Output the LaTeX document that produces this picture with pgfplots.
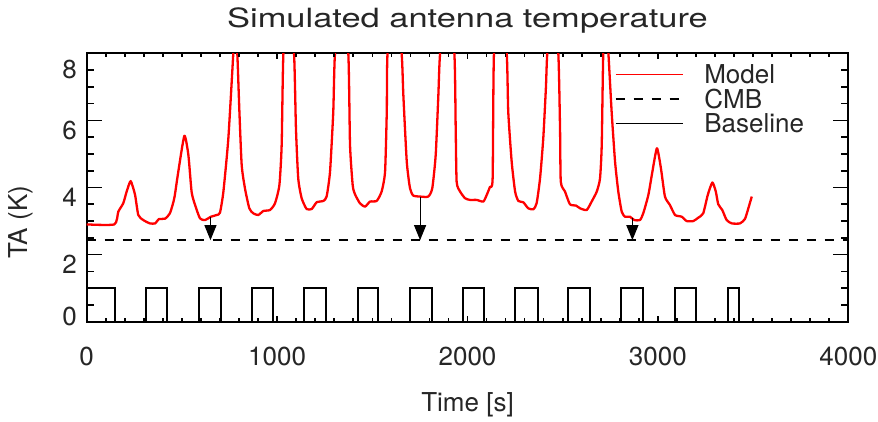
\documentclass[border=0pt]{standalone}
\usepackage{pgfplots}
\pgfplotsset{compat=1.18}
\usepackage{fontspec}
\setmainfont{TeX Gyre Heros}
\usepackage{graphicx}
\usetikzlibrary{arrows.meta}
\newcommand{\lbl}{\fontsize{26bp}{30bp}\selectfont}
\definecolor{txt}{gray}{0.15}
\tikzset{tickmark/.style={draw=black, line width=1.6bp}}
\pgfplotsset{
  plotframe/.style={
    scale only axis,
    width=761.6bp, height=268.4bp,
    at={(86.7bp,100.3bp)}, anchor=south west,
    xmin=0, xmax=4000, ymin=0, ymax=8,
    tick align=inside,
    tick style={draw=black, line width=1.6bp},
    tick label style={font=\lbl, text=txt, inner sep=0pt},
    scaled ticks=false,
    /pgf/number format/assume math mode=true,
    /pgf/number format/1000 sep={},
  },
}

\begin{document}
\begin{tikzpicture}
% y axis, data, title and legend
\begin{axis}[
  plotframe,
  xmajorticks=false, xminorticks=false,
  ytick={2,4,6},
  extra y ticks={8},
  extra y tick style={yticklabel style={yshift=-6.7bp}},
  major tick length=15bp, minor tick length=7.5bp,
  axis line style={line width=2bp},
  yticklabel style={anchor=north east, xshift=-9.7bp},
  title={\scalebox{1.3}[1]{Simulated antenna temperature}},
  title style={at={(axis description cs:0.5,1)}, anchor=base, yshift=20bp,
    font=\fontsize{26.5bp}{30bp}\selectfont, text=txt, inner sep=0pt},
  ylabel={TA (K)},
  ylabel style={at={(axis description cs:-0.0771,0.371)}, anchor=base,
    font=\lbl, text=txt, inner sep=0pt},
  legend style={at={(axis description cs:0.6937,0.9564)}, anchor=north west,
    draw=none, fill=none, inner sep=0pt, outer sep=0pt,
    row sep=5.8bp, column sep=21bp,
    nodes={inner sep=0pt, font=\lbl, text=txt, text height=18.7bp, text depth=0pt}},
  legend cell align=left,
  legend image code/.code={\draw[#1, line width=1.3bp] (0bp,0bp) -- (67bp,0bp);},
]
% model antenna temperature
\addplot[red, line width=2.3bp, line join=round, smooth, tension=0.35] coordinates {
(0,2.90) (145,2.90) (166,3.28) (192,3.53) (210,3.88) (231,4.19) (254,3.78)
(271,3.18) (297,3.03) (332,2.93) (359,2.93) (380,3.06) (411,3.07) (437,3.23)
(460,3.68) (481,4.47) (513,5.54) (534,4.97) (551,3.87) (569,3.48) (595,3.08)
(621,3.03) (653,3.13) (683,3.18) (700,3.25) (718,3.88) (744,5.47) (770,8.0)
(780,9.0) (791,8.0) (802,6.26) (814,4.67) (831,3.98) (854,3.38) (875,3.23)
(901,3.18) (928,3.30) (963,3.33) (989,3.53) (1012,4.07) (1024,5.27) (1033,8.0)
(1060,10) (1089,8.0) (1099,5.76) (1111,4.27) (1129,3.68) (1155,3.36) (1182,3.36)
(1208,3.56) (1243,3.60) (1260,3.73) (1278,4.47) (1295,6.26) (1304,8.0) (1340,10)
(1374,8.0) (1383,5.27) (1397,4.07) (1409,3.80) (1435,3.53) (1462,3.43) (1488,3.58)
(1523,3.60) (1549,3.88) (1567,4.47) (1576,6.26) (1580,8.0) (1617,10) (1654,8.0)
(1663,6.76) (1681,4.77) (1698,3.98) (1715,3.76) (1751,3.73) (1794,3.73) (1815,3.98)
(1833,4.97) (1847,6.76) (1856,8.0) (1893,10) (1931,8.0) (1938,5.76) (1943,4.17)
(1961,3.88) (1987,3.68) (2013,3.63) (2048,3.63) (2083,3.58) (2101,3.78) (2118,4.02)
(2132,4.27) (2139,8.0) (2172,10) (2206,8.0) (2214,6.26) (2232,4.77) (2250,3.88)
(2267,3.60) (2293,3.56) (2319,3.38) (2346,3.35) (2363,3.53) (2381,4.27) (2398,5.47)
(2412,7.0) (2419,8.0) (2448,10) (2477,8.0) (2486,5.76) (2490,4.17) (2512,3.88)
(2538,3.50) (2570,3.46) (2591,3.38) (2626,3.33) (2652,3.58) (2679,3.88) (2696,4.27)
(2705,5.27) (2713,8.0) (2726,9.0) (2740,8.0) (2757,6.26) (2775,4.77) (2792,3.88)
(2810,3.28) (2827,3.13) (2853,3.13) (2876,3.03) (2906,3.03) (2923,3.23) (2950,3.78)
(2971,4.47) (2995,5.17) (3016,4.57) (3037,3.73) (3063,3.48) (3090,3.18) (3125,3.13)
(3151,3.00) (3186,3.00) (3212,3.10) (3238,3.23) (3262,3.78) (3286,4.15) (3304,3.88)
(3317,3.50) (3338,3.33) (3361,3.03) (3388,2.93) (3431,2.93) (3457,3.06) (3475,3.38)
(3493,3.73)
};
\addlegendentry{Model}
% CMB level
\addplot[black, line width=2.3bp, dash pattern=on 9.5bp off 8.5bp]
  coordinates {(0,2.43) (4000,2.43)};
\addlegendentry{CMB}
% switching baseline
\addplot[black, line width=2bp, line join=miter] coordinates {
(0,1) (149,1) (149,0) (312,0) (312,1) (423,1) (423,0) (590,0) (590,1) (704,1)
(704,0) (867,0) (867,1) (980,1) (980,0) (1141,0) (1141,1) (1257,1) (1257,0)
(1426,0) (1426,1) (1532,1) (1532,0) (1699,0) (1699,1) (1813,1) (1813,0)
(1975,0) (1975,1) (2088,1) (2088,0) (2251,0) (2251,1) (2369,1) (2369,0)
(2530,0) (2530,1) (2644,1) (2644,0) (2808,0) (2808,1) (2923,1) (2923,0)
(3090,0) (3090,1) (3200,1) (3200,0) (3367,0) (3367,1) (3428,1) (3428,0) (3494,0)
};
\addlegendentry{Baseline}
% offsets above the CMB level
\addplot[black, line width=1.1bp, -{Triangle[length=15bp,width=12bp]}, forget plot]
  coordinates {(650,3.12) (650,2.43)};
\addplot[black, line width=1.1bp, -{Triangle[length=15bp,width=12bp]}, forget plot]
  coordinates {(1751,3.73) (1751,2.43)};
\addplot[black, line width=1.1bp, -{Triangle[length=15bp,width=12bp]}, forget plot]
  coordinates {(2866,3.10) (2866,2.43)};
% inward tick marks on all four sides
\pgfplotsinvokeforeach{100,200,300,400,500,600,700,800,900,1100,1200,1300,1400,
  1500,1600,1700,1800,1900,2100,2200,2300,2400,2500,2600,2700,2800,2900,3100,
  3200,3300,3400,3500,3600,3700,3800,3900}{
  \draw[tickmark] (axis cs:#1,0) -- ++(0bp,3.5bp);
  \draw[tickmark] (axis cs:#1,8) -- ++(0bp,-3.5bp);
}
\pgfplotsinvokeforeach{1000,2000,3000}{
  \draw[tickmark] (axis cs:#1,0) -- ++(0bp,6bp);
  \draw[tickmark] (axis cs:#1,8) -- ++(0bp,-6bp);
}
\pgfplotsinvokeforeach{0.5,1,1.5,2.5,3,3.5,4.5,5,5.5,6.5,7,7.5}{
  \draw[tickmark] (axis cs:0,#1) -- ++(7.5bp,0bp);
  \draw[tickmark] (axis cs:4000,#1) -- ++(-7.5bp,0bp);
}
\pgfplotsinvokeforeach{2,4,6}{
  \draw[tickmark] (axis cs:0,#1) -- ++(15bp,0bp);
  \draw[tickmark] (axis cs:4000,#1) -- ++(-15bp,0bp);
}
\end{axis}
% x axis labels, and the zero label of the y axis
\begin{axis}[
  plotframe,
  axis line style={draw=none},
  ytick={0},
  yticklabel style={anchor=south east, xshift=-9.7bp, yshift=-4.3bp},
  xtick={0,1000,2000,3000,4000},
  major tick length=6bp, minor tick length=3.5bp,
  xticklabel style={anchor=north, yshift=-25bp},
  xlabel={Time [s]},
  xlabel style={at={(axis description cs:0.5,0)}, anchor=base, yshift=-89.3bp,
    font=\lbl, text=txt, inner sep=0pt},
]
\end{axis}
\pgfresetboundingbox
\path (0,0) rectangle (878bp,422bp);
\end{tikzpicture}
\end{document}
